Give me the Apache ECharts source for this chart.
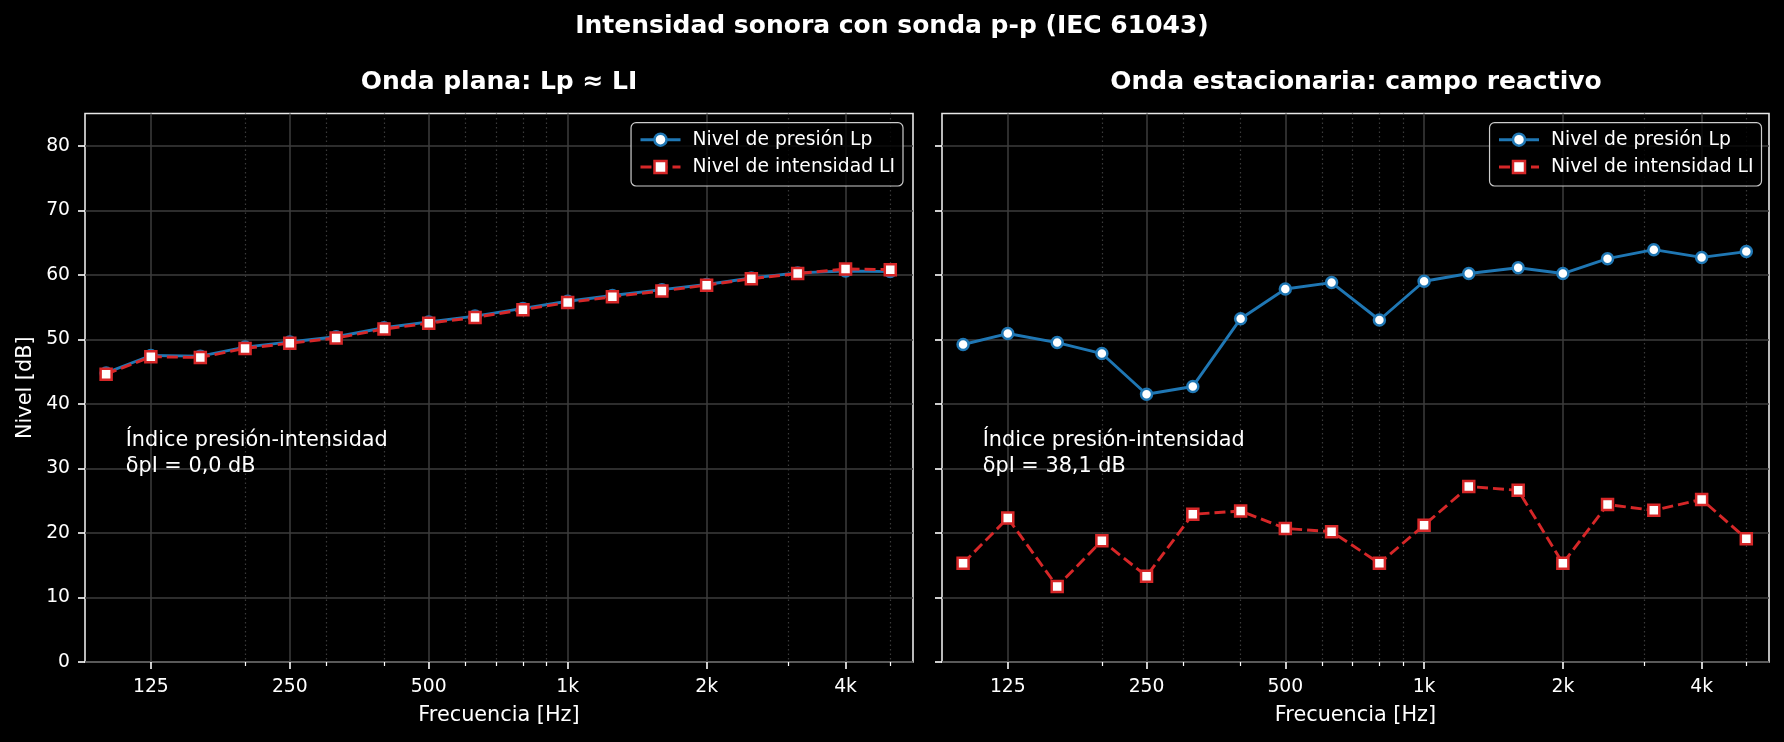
<!DOCTYPE html>
<html>
<head>
<meta charset="utf-8">
<title>Intensidad sonora con sonda p-p</title>
<script src="https://cdn.jsdelivr.net/npm/echarts@6/dist/echarts.min.js"></script>
<style>
html, body { margin: 0; padding: 0; background: #000; }
#main { width: 1784px; height: 742px; }
</style>
</head>
<body>
<div id="main"></div>
<script>
// bandas de tercio de octava [Hz]
var freqs = [100, 125, 160, 200, 250, 315, 400, 500, 630, 800, 1000, 1250, 1600, 2000, 2500, 3150, 4000, 5000];
var tickFreqs = [125, 250, 500, 1000, 2000, 4000];
var tickLabels = ['125', '250', '500', '1k', '2k', '4k'];
var minorFreqs = [200, 300, 400, 600, 700, 800, 900, 3000, 5000];
var yTicks = [0, 10, 20, 30, 40, 50, 60, 70, 80];

// onda plana
var planeLp = [44.8, 47.5, 47.4, 48.8, 49.6, 50.4, 51.8, 52.7, 53.6, 54.8, 55.9, 56.8, 57.7, 58.5, 59.5, 60.3, 60.6, 60.5];
var planeLI = [44.6, 47.3, 47.2, 48.6, 49.4, 50.2, 51.6, 52.5, 53.4, 54.6, 55.7, 56.6, 57.5, 58.4, 59.4, 60.2, 60.9, 60.8];
// onda estacionaria
var standLp = [49.2, 50.9, 49.5, 47.8, 41.5, 42.7, 53.2, 57.8, 58.8, 53.0, 59.0, 60.2, 61.1, 60.2, 62.5, 63.9, 62.7, 63.6];
var standLI = [15.3, 22.3, 11.7, 18.8, 13.3, 22.9, 23.4, 20.7, 20.2, 15.3, 21.2, 27.2, 26.6, 15.3, 24.4, 23.5, 25.2, 19.1];

var seriesNames = ['Nivel de presión Lp', 'Nivel de intensidad LI'];
var panelTitles = ['Onda plana: Lp ≈ LI', 'Onda estacionaria: campo reactivo'];
var indexTexts = ['Índice presión-intensidad\nδpI = 0,0 dB', 'Índice presión-intensidad\nδpI = 38,1 dB'];
var suptitle = 'Intensidad sonora con sonda p-p (IEC 61043)';

var FONT = 'DejaVu Sans';
var xMin = 90, xMax = 5600;

function lg(f) { return Math.log10(f); }

function toPoints(vals) {
	return freqs.map(function (f, i) { return [lg(f), vals[i]]; });
}

function fmtFreq(v) {
	for (var i = 0; i < tickFreqs.length; i++) {
		if (Math.abs(lg(tickFreqs[i]) - v) < 1e-6) return tickLabels[i];
	}
	return '';
}

var panels = [
	{ left: 85, width: 828, lp: planeLp, li: planeLI, cx: 499, tx: 125.7, legendRight: 881 },
	{ left: 942, width: 827, lp: standLp, li: standLI, cx: 1356, tx: 982.7, legendRight: 22.5 }
];

var grid = [], xAxis = [], yAxis = [], series = [], legend = [], graphic = [];

graphic.push({
	type: 'text', x: 892, y: 26.4, z: 100,
	style: { text: suptitle, align: 'center', verticalAlign: 'middle', fill: '#fff',
		fontSize: 25, fontWeight: 'bold', fontFamily: FONT }
});

panels.forEach(function (p, gi) {
	grid.push({
		left: p.left, top: 113.5, width: p.width, height: 548.5,
		show: true, borderColor: '#e8e8e8', borderWidth: 1.6, backgroundColor: 'transparent',
		containLabel: false, outerBoundsMode: 'none'
	});
	// eje mayor
	xAxis.push({
		type: 'value', gridIndex: gi, min: lg(xMin), max: lg(xMax), position: 'bottom',
		name: 'Frecuencia [Hz]', nameLocation: 'middle', nameGap: 43.5,
		nameTextStyle: { color: '#fff', fontSize: 20.8, fontFamily: FONT, lineHeight: 21 },
		axisLine: { show: false, onZero: false },
		axisTick: { show: true, length: 7, lineStyle: { color: '#fff', width: 1.6 }, customValues: tickFreqs.map(lg) },
		axisLabel: { show: true, customValues: tickFreqs.map(lg), margin: 15, color: '#fff',
			fontSize: 18.75, fontFamily: FONT, lineHeight: 20, formatter: fmtFreq },
		splitLine: { show: true, lineStyle: { color: '#3d3d3d', width: 1.5 } }
	});
	// eje menor (solo rejilla punteada)
	xAxis.push({
		type: 'value', gridIndex: gi, min: lg(xMin), max: lg(xMax), position: 'bottom',
		axisLine: { show: false, onZero: false },
		axisLabel: { show: false },
		axisTick: { show: true, length: 4, lineStyle: { color: '#fff', width: 1.2 }, customValues: minorFreqs.map(lg) },
		splitLine: { show: true, lineStyle: { color: '#3a3a3a', width: 1.2, type: [1.5, 3] } }
	});
	yAxis.push({
		type: 'value', gridIndex: gi, min: 0, max: 85,
		name: gi === 0 ? 'Nivel [dB]' : '', nameLocation: 'middle', nameGap: 49, nameRotate: 90,
		nameTextStyle: { color: '#fff', fontSize: 20.8, fontFamily: FONT, lineHeight: 21 },
		axisLine: { show: false, onZero: false },
		axisTick: { show: true, length: 7, lineStyle: { color: '#fff', width: 1.6 }, customValues: yTicks },
		axisLabel: { show: gi === 0, customValues: yTicks, margin: 15, color: '#fff',
			fontSize: 18.75, fontFamily: FONT, lineHeight: 20 },
		splitLine: { show: true, lineStyle: { color: '#3d3d3d', width: 1.5 } }
	});
	series.push({
		type: 'line', name: seriesNames[0], xAxisIndex: 2 * gi, yAxisIndex: gi,
		data: toPoints(p.lp), symbol: 'circle', symbolSize: 11, z: 3,
		lineStyle: { color: '#1f77b4', width: 2.9 },
		itemStyle: { color: '#fff', borderColor: '#1f77b4', borderWidth: 2.5 }
	});
	series.push({
		type: 'line', name: seriesNames[1], xAxisIndex: 2 * gi, yAxisIndex: gi,
		data: toPoints(p.li), symbol: 'rect', symbolSize: 11, z: 4,
		lineStyle: { color: '#d62728', width: 2.9, type: [11, 5] },
		itemStyle: { color: '#fff', borderColor: '#d62728', borderWidth: 2.5 }
	});
	legend.push({
		show: true, orient: 'vertical', right: p.legendRight, top: 122.7, data: seriesNames,
		itemWidth: 40, itemHeight: 15, itemGap: 5.3, padding: [6, 8, 8, 8],
		backgroundColor: 'rgba(0,0,0,0.8)', borderColor: '#cccccc', borderWidth: 1.2, borderRadius: 5,
		selectedMode: false,
		lineStyle: { width: 2.9 },
		itemStyle: { borderWidth: 2.5 },
		textStyle: { color: '#fff', fontSize: 18.75, fontFamily: FONT, lineHeight: 22, padding: [0, 0, 0, 7] }
	});
	graphic.push({
		type: 'text', x: p.cx, y: 82.2, z: 100,
		style: { text: panelTitles[gi], align: 'center', verticalAlign: 'middle', fill: '#fff',
			fontSize: 25, fontWeight: 'bold', fontFamily: FONT }
	});
	graphic.push({
		type: 'text', x: p.tx, y: 428, z: 100,
		style: { text: indexTexts[gi], align: 'left', verticalAlign: 'top', fill: '#fff',
			fontSize: 20.8, fontFamily: FONT, lineHeight: 26 }
	});
});

var myChart = echarts.init(document.getElementById('main'));
myChart.setOption({
	backgroundColor: '#000',
	animation: false,
	grid: grid,
	xAxis: xAxis,
	yAxis: yAxis,
	legend: legend,
	series: series,
	graphic: graphic
});
</script>
</body>
</html>
